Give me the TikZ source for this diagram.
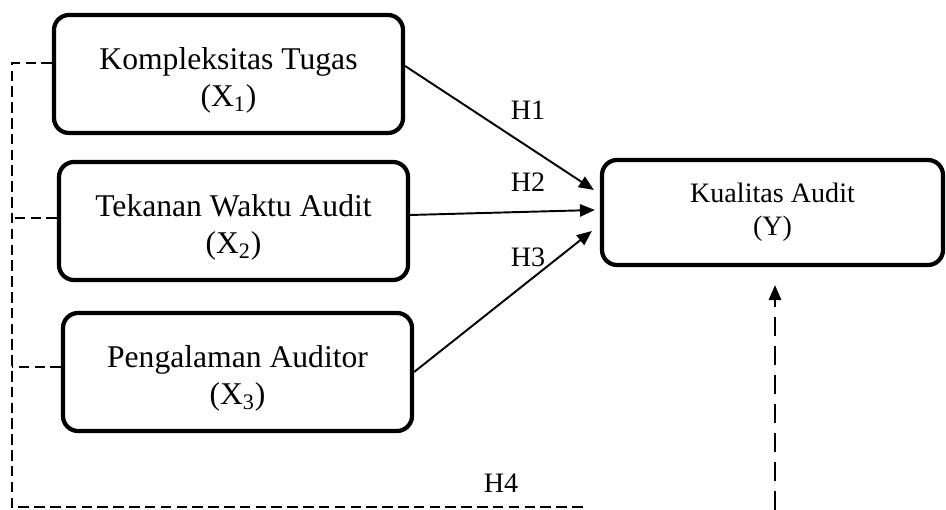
\documentclass[tikz,border=0pt]{standalone}
\usepackage{fontspec}
\setmainfont{Liberation Serif}
\usetikzlibrary{arrows.meta}
\newcommand{\boxstrut}{\rule{0pt}{0.71cm}}
\tikzset{
  varbox/.style={draw, line width=2.4pt, rounded corners=0.3cm, align=center,
    minimum width=6.98cm, minimum height=2.36cm, font=\fontsize{18}{21}\selectfont},
  arr/.style={line width=1.1pt, -{Triangle[length=8.5pt,width=7pt]}},
  dashline/.style={line width=0.8pt, dash pattern=on 6pt off 3pt},
  dasharr/.style={line width=1.2pt, dash pattern=on 11pt off 5.5pt,
    -{Triangle[length=8.5pt,width=7pt]}},
  hlabel/.style={font=\fontsize{16}{19}\selectfont}
}
\begin{document}
\begin{tikzpicture}
      \useasboundingbox (0,0) rectangle (18.92,10.2);

      % Variables
      \node[varbox] (x1) at (4.57,8.72) {\boxstrut Kompleksitas Tugas\\(X\textsubscript{1})};
      \node[varbox] (x2) at (4.67,5.78) {\boxstrut Tekanan Waktu Audit\\(X\textsubscript{2})};
      \node[varbox] (x3) at (4.75,2.76) {\boxstrut Pengalaman Auditor\\(X\textsubscript{3})};
      \node[varbox, minimum width=6.82cm, minimum height=2.1cm,
        font=\fontsize{16}{19}\selectfont] (y) at (15.45,5.95) {Kualitas Audit\\(Y)};

      % Partial effects
      \draw[arr] ([yshift=0.16cm]x1.east) -- ([xshift=-0.12cm,yshift=0.45cm]y.west);
      \draw[arr] ([yshift=0.12cm]x2.east) -- ([xshift=-0.1cm,yshift=0.05cm]y.west);
      \draw[arr] (x3.east) -- ([xshift=-0.16cm,yshift=-0.37cm]y.west);

      \node[hlabel] (h1) at (10.56,8.0) {H1};
      \node[hlabel] (h2) at (10.56,6.56) {H2};
      \node[hlabel] (h3) at (10.56,5.06) {H3};
      \node[hlabel] (h4) at (10.02,0.54) {H4};

      % Simultaneous effect
      \coordinate (c4) at (0.24,0.06);
      \coordinate (c5) at (11.7,0.06);
      \coordinate (c6) at (15.5,0);
      \coordinate (s2) at ([yshift=0.06cm]x2.west);
      \coordinate (s3) at ([yshift=0.1cm]x3.west);
      \draw[dashline] ([yshift=0.22cm]x1.west) -| (c4) -- (c5);
      \draw[dashline] (s2) -- (s2 -| c4);
      \draw[dashline] (s3) -- (s3 -| c4);
      \draw[dasharr, shorten >=0.36cm] (c6) -- (c6 |- y.south);
    \end{tikzpicture}
\end{document}
